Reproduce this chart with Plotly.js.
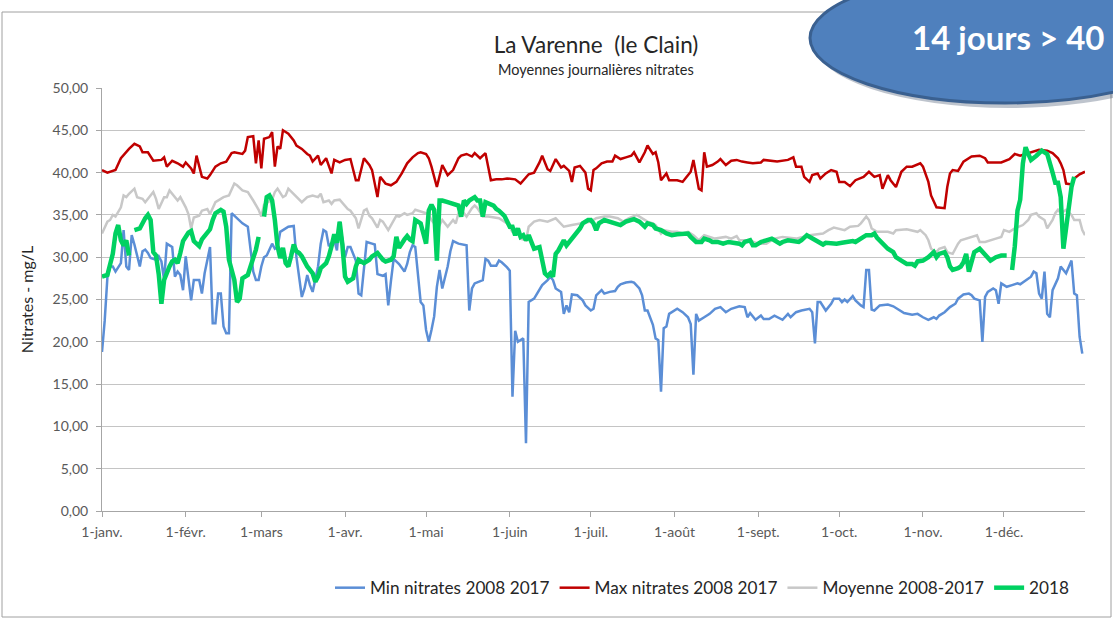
<!DOCTYPE html>
<html>
<head>
<meta charset="utf-8">
<script src="https://cdn.plot.ly/plotly-3.0.1.min.js"></script>
<style>
html,body{margin:0;padding:0;background:#fff;}
#chart{width:1113px;height:620px;}
</style>
</head>
<body>
<div id="chart"></div>
<script>
// Day of year (0 = 1 janv.) and daily nitrate values (mg/L)
const monthTickDays = [0,31,59,90,120,151,181,212,243,273,304,334];
const monthTickLabels = ['1-janv.','1-févr.','1-mars','1-avr.','1-mai','1-juin','1-juil.','1-août','1-sept.','1-oct.','1-nov.','1-déc.'];

const minDays = [0,1,2,3,4,5,7,8,9,10,11,12,14,15,16,17,18,20,21,22,23,24,25,26,27,28,29,30,31,32,33,34,36,37,38,40,41,42,43,44,45,46,47,48,50,52,54,55,56,57,58,59,60,61,62,63,64,65,66,68,69,71,72,74,75,76,77,78,80,81,82,83,84,86,87,88,89,90,91,92,94,95,96,97,98,100,101,102,104,105,106,107,108,110,112,113,114,115,116,118,119,120,121,122,123,124,125,126,127,128,129,130,132,135,136,137,138,141,142,143,144,146,147,148,150,151,152,153,154,155,156,157,158,160,162,163,165,166,167,168,170,171,172,173,174,176,178,179,181,182,183,185,186,188,190,191,192,194,196,197,199,200,201,202,204,205,206,207,208,209,210,212,213,215,217,218,219,220,221,223,225,227,229,231,233,236,238,239,240,242,244,245,247,249,251,252,254,255,257,259,262,263,264,265,266,268,270,271,273,274,275,276,278,279,281,282,283,284,285,286,288,291,293,295,297,300,302,304,305,306,308,309,310,312,314,316,317,319,321,322,323,325,326,327,328,330,331,332,333,335,337,339,340,342,344,345,346,347,348,349,350,351,352,354,355,357,358,359,360,361,362,363];
const minVals = [18.8,22.5,27.6,28.9,28.9,28.3,29.3,33.2,28.9,28.5,32.6,31.5,28.9,30.7,30.9,30.5,29.9,29.7,30.1,29.5,27.3,31.6,31.4,31.2,27.7,28.3,27.9,26.1,30.1,27.3,24.9,27.3,27.3,25.7,28.1,31.2,22.2,22.2,25.7,25.7,21.8,21.0,21.0,35.2,34.6,34.0,33.6,30.7,28.3,27.3,27.3,28.9,30.0,30.2,31.0,31.6,31.0,31.2,33.0,33.4,33.6,33.7,30.0,25.3,26.3,27.9,26.7,25.9,28.9,31.6,33.2,33.0,31.3,32.0,30.8,34.2,32.0,30.0,31.2,31.2,29.6,25.7,25.5,28.8,31.8,31.6,31.5,28.0,27.8,28.0,24.3,27.2,29.8,29.2,28.3,29.2,30.6,31.4,31.2,24.7,24.3,21.4,20.0,21.4,23.0,26.5,28.5,26.3,27.7,28.9,30.7,31.9,31.6,31.4,23.7,26.3,26.9,27.3,29.8,29.6,29.0,29.0,29.6,29.4,28.8,28.4,13.5,21.3,20.0,20.2,20.4,8.0,24.7,25.1,26.1,26.7,27.3,27.7,27.3,26.3,25.9,23.3,24.3,23.5,25.6,25.5,24.9,24.3,23.7,23.9,25.5,26.1,25.7,25.9,26.0,26.5,26.8,27.0,27.1,27.0,26.3,25.5,23.7,23.7,22.0,20.4,20.2,14.1,21.6,21.8,23.3,23.7,23.9,23.5,22.9,22.1,16.1,23.3,22.5,22.9,23.3,23.9,24.1,23.5,23.9,24.2,24.1,22.9,23.4,22.6,23.1,22.7,22.7,23.1,22.8,22.6,23.3,22.9,23.5,23.7,23.9,23.5,19.8,24.7,24.7,23.7,24.5,25.1,25.1,24.7,25.0,24.7,25.4,24.9,24.3,24.1,28.5,28.5,23.8,23.7,24.3,24.4,24.2,23.8,23.4,23.2,23.3,22.9,22.7,22.6,22.9,22.7,23.1,23.5,24.1,24.5,25.1,25.6,25.7,25.5,25.1,24.9,20.0,25.3,25.9,26.3,26.1,24.5,26.9,26.5,26.7,26.9,26.8,27.3,27.7,28.3,28.1,25.7,25.1,28.3,23.3,22.9,26.1,27.5,28.9,28.1,28.9,29.6,25.7,25.5,20.6,18.6];

const maxDays = [0,2,5,7,10,12,14,15,17,19,22,23,24,26,28,30,31,33,34,35,37,39,40,42,44,46,48,49,52,53,54,56,57,58,59,60,62,63,64,65,66,67,69,71,72,74,76,77,78,80,81,83,85,86,88,90,92,94,95,97,99,100,102,103,105,107,109,111,113,115,117,118,120,121,122,123,124,126,128,130,132,133,135,137,138,140,142,143,144,146,148,150,153,155,157,158,160,162,163,165,166,168,170,171,173,174,175,177,179,180,181,182,183,185,187,189,190,192,194,196,197,199,201,202,204,205,206,207,209,210,213,215,216,218,219,221,222,223,224,226,228,229,231,233,235,237,239,241,244,245,250,254,256,257,259,260,262,263,265,266,268,270,272,273,275,277,279,282,284,286,288,289,291,292,294,296,298,300,303,304,306,307,309,312,313,314,315,317,319,322,325,327,328,333,336,338,340,343,345,347,350,352,354,355,356,357,359,360,362,364];
const maxVals = [40.3,40.0,40.3,41.7,42.8,43.4,43.1,42.4,42.4,41.4,41.5,41.8,40.7,41.4,41.1,40.7,41.2,40.5,39.9,42.0,39.5,39.3,39.7,40.7,41.1,41.3,42.3,42.4,42.2,42.6,44.2,44.3,41.1,43.8,40.5,44.0,44.2,44.8,40.7,43.1,42.8,45.0,44.6,43.8,43.2,42.8,42.2,42.0,41.3,42.0,40.9,41.7,39.9,41.5,41.2,41.5,41.6,39.1,39.1,41.7,40.9,40.3,37.1,39.5,38.7,38.5,38.9,39.9,41.1,41.8,42.3,42.4,42.2,41.7,40.7,39.5,38.3,40.9,39.7,40.3,41.7,42.0,42.2,41.9,42.3,41.7,42.3,40.7,39.1,39.2,39.2,39.3,39.2,38.7,39.4,39.8,40.0,41.2,42.0,40.4,40.2,41.6,40.6,40.8,40.2,38.9,40.6,40.8,40.0,38.1,37.9,40.3,40.5,41.1,41.3,41.3,42.0,41.6,41.8,42.0,42.4,41.2,42.4,43.2,42.2,42.4,41.2,39.1,39.9,39.1,39.1,38.9,39.3,40.1,41.5,38.1,37.9,42.4,40.7,40.9,41.3,41.6,40.9,41.4,41.5,41.3,41.2,41.1,41.2,41.5,41.3,41.5,41.8,40.7,40.7,39.5,38.9,39.7,39.9,39.3,39.9,40.3,40.1,38.9,38.9,38.4,39.1,39.5,40.1,39.5,39.7,38.1,39.7,39.1,38.3,40.1,40.7,40.7,41.1,40.7,38.9,37.3,35.9,35.8,38.3,39.9,40.3,40.2,41.3,41.9,42.0,41.7,41.2,41.2,41.6,42.2,42.0,42.3,42.5,42.7,42.6,42.3,41.7,41.1,40.3,38.7,38.6,39.3,39.8,40.1];

const meanDays = [0,2,3,4,5,7,8,9,10,12,13,15,16,18,19,20,21,23,24,25,26,28,29,30,31,32,33,34,36,37,39,40,41,42,45,47,49,50,52,54,56,58,59,60,61,63,64,65,67,68,69,71,73,74,76,78,80,81,82,84,85,86,88,90,91,92,94,95,97,98,99,100,102,103,104,106,108,109,110,112,113,115,116,118,120,121,122,123,124,126,127,128,130,131,132,133,135,137,138,139,141,143,147,150,152,154,155,157,158,160,162,165,168,170,171,174,178,181,183,186,188,191,193,195,198,200,202,204,205,207,208,211,213,215,217,219,221,223,227,231,233,235,236,240,242,244,246,248,249,252,257,262,267,269,271,275,277,280,281,283,284,285,287,291,293,294,298,302,303,305,306,307,309,310,312,313,315,316,317,318,320,324,325,327,331,333,334,336,338,341,343,344,346,347,349,350,352,353,354,355,357,359,360,362,363,364];
const meanVals = [32.8,34.2,34.4,35.0,34.8,35.9,37.3,37.1,37.5,38.1,37.1,36.9,36.5,37.3,37.7,36.9,35.7,37.1,37.1,37.9,37.5,36.7,37.1,36.5,35.9,35.1,33.4,34.7,34.9,35.5,35.7,35.1,35.9,36.5,37.1,37.3,38.7,38.5,37.9,37.7,36.7,35.6,34.8,36.2,36.4,36.8,37.7,38.1,37.1,37.3,38.1,37.5,36.9,36.5,37.1,37.3,37.1,37.5,36.5,36.7,36.3,36.7,36.8,36.1,35.7,35.5,34.6,33.4,35.5,35.7,34.9,34.6,33.5,34.4,34.2,33.2,34.4,34.9,34.8,35.2,35.0,35.2,35.6,35.4,35.2,35.0,34.4,34.0,33.2,34.4,34.0,33.6,34.4,34.0,35.2,35.6,34.8,35.8,36.1,35.8,34.8,34.8,34.6,34.0,33.0,32.8,32.2,32.0,33.6,34.2,34.4,34.2,34.6,34.0,33.6,33.8,34.0,34.2,34.6,34.8,34.8,34.6,34.2,34.6,35.0,34.6,34.2,34.0,33.8,32.8,33.2,33.0,33.0,32.8,33.0,32.6,32.0,32.6,32.2,32.4,32.2,32.5,32.0,32.0,31.7,31.6,31.6,32.0,32.2,32.4,32.2,32.6,32.8,33.2,33.5,33.2,33.6,33.7,34.0,34.8,34.4,33.4,33.0,33.0,32.8,33.2,33.3,33.0,33.2,32.6,32.0,31.0,30.6,31.0,31.2,30.6,30.4,31.0,31.6,32.0,32.2,32.6,31.8,31.8,32.2,32.4,33.2,33.0,33.4,33.8,34.4,35.0,35.2,34.8,34.4,33.4,34.4,35.2,35.6,35.2,35.6,35.0,34.4,34.4,33.2,32.6];

const y2018Days = [0,2,4,5,6,7,8,9,10,11,12,14,16,17,18,19,20,21,22,23,25,26,27,28,29,30,32,33,34,36,37,38,40,41,42,44,45,46,47,49,50,51,52,54,55,56,57,58,59,60,61,62,63,64,65,66,67,68,69,70,71,72,73,74,75,76,78,79,80,81,83,84,85,86,87,88,89,90,91,93,94,95,97,99,100,102,104,105,107,108,109,110,112,113,114,115,116,118,119,120,121,122,123,124,125,126,128,131,132,133,134,135,136,138,139,140,141,142,144,145,146,147,149,150,151,152,153,154,155,156,157,158,159,160,162,163,164,165,166,167,168,169,170,171,172,173,175,176,177,178,180,181,182,183,184,186,188,190,192,194,196,197,199,201,202,204,205,207,209,211,213,217,218,219,220,222,223,225,226,228,230,232,234,236,237,238,240,241,242,243,244,246,248,249,251,252,254,258,259,261,263,265,267,268,272,274,276,278,279,281,283,285,286,287,289,291,293,294,296,298,300,301,302,303,304,306,308,309,310,312,313,314,315,317,318,319,320,321,322,323,325,326,328,329,331,333,335,336,337,338,339,340,341,342,343,344,346,347,348,349,350,352,353,354,355,356,357,358,359,360];
const y2018Vals = [27.7,27.9,30.4,32.8,33.8,32.0,31.4,32.0,30.2,null,33.2,33.4,34.6,35.0,34.4,30.6,30.2,28.0,24.5,27.3,28.9,29.5,29.7,29.3,30.5,31.9,32.9,33.1,31.9,31.3,32.1,32.5,33.3,34.4,35.2,35.6,35.4,33.6,29.7,27.3,24.7,25.1,27.5,27.9,28.9,29.7,30.9,32.4,null,34.8,37.1,37.3,36.7,34.4,31.3,29.9,31.1,29.3,28.9,30.1,31.5,30.7,30.5,30.1,29.5,28.9,28.1,27.1,27.7,28.7,29.3,30.1,31.3,32.7,31.7,34.2,31.5,27.7,27.1,27.5,28.9,29.7,29.3,29.7,30.1,30.5,29.7,29.5,29.7,30.1,32.4,31.1,32.1,32.5,32.1,31.9,34.4,34.0,32.8,31.6,35.5,36.2,35.6,29.6,36.7,36.7,36.5,36.3,36.1,34.8,36.7,36.3,36.7,37.1,36.7,36.7,34.8,36.5,36.3,36.1,35.7,35.5,34.9,34.2,33.6,33.6,32.6,33.4,32.4,32.6,32.0,32.6,31.6,31.0,31.2,29.6,28.1,27.8,28.1,27.7,30.4,30.8,31.4,32.0,31.4,31.8,32.4,32.8,33.4,34.0,34.4,34.4,34.0,33.2,34.0,34.4,34.2,34.1,33.8,34.2,34.4,34.5,34.2,33.6,34.0,33.8,33.4,33.2,32.8,32.6,32.7,32.8,32.4,32.0,31.8,31.8,32.2,32.0,31.8,31.8,31.6,31.8,31.7,31.6,31.4,31.8,32.0,31.4,31.4,31.6,31.8,32.0,32.2,32.0,31.6,31.8,32.0,31.8,32.0,32.6,32.2,31.8,31.5,31.7,31.6,31.7,31.8,31.9,31.8,32.2,32.6,32.6,32.8,32.3,31.6,31.0,30.6,30.0,29.6,29.2,29.2,29.0,29.5,29.5,29.6,30.0,30.6,30.0,30.4,30.6,30.0,28.9,28.5,28.7,28.9,29.4,30.4,28.3,29.3,30.6,31.0,30.6,30.0,29.6,30.0,30.2,30.2,null,28.5,31.3,35.5,36.8,41.1,43.0,42.2,41.5,42.0,42.4,42.6,42.4,42.2,40.0,38.8,38.8,37.1,31.0,33.6,36.7,38.3,39.5];

const seriesNames = ['Min nitrates 2008 2017','Max nitrates 2008 2017','Moyenne 2008-2017','2018'];

const FONT = 'Lato, "Open Sans", sans-serif';
// pixel -> paper helpers for decorations (plot area: x 102..1085, y 88..511)
const px = x => (x - 102) / 983;
const py = y => (511 - y) / 423;

const traces = [
  {x: minDays, y: minVals, name: seriesNames[0], type: 'scatter', mode: 'lines', line: {color: '#5b8ed6', width: 2.5}},
  {x: maxDays, y: maxVals, name: seriesNames[1], type: 'scatter', mode: 'lines', line: {color: '#c00000', width: 2.5}},
  {x: meanDays, y: meanVals, name: seriesNames[2], type: 'scatter', mode: 'lines', line: {color: '#c8c8c8', width: 2.5}},
  {x: y2018Days, y: y2018Vals, name: seriesNames[3], type: 'scatter', mode: 'lines', connectgaps: false, line: {color: '#00d161', width: 4.5}}
];

const layout = {
  width: 1113, height: 620,
  margin: {l: 102, r: 28, t: 88, b: 109},
  paper_bgcolor: '#ffffff', plot_bgcolor: '#ffffff',
  separators: ', ',
  font: {family: FONT, color: '#404040'},
  title: {
    text: 'La Varenne &nbsp;(le Clain)',
    font: {family: FONT, size: 22.5, color: '#262626'},
    xref: 'container', yref: 'container',
    x: 596 / 1113, xanchor: 'center',
    y: 1 - 45 / 620, yanchor: 'middle'
  },
  xaxis: {
    range: [0, 364],
    tickvals: monthTickDays, ticktext: monthTickLabels,
    ticks: 'outside', ticklen: 5, tickcolor: '#a6a6a6',
    ticklabelstandoff: 3,
    showgrid: false, zeroline: false,
    showline: true, linecolor: '#a6a6a6', linewidth: 1,
    tickfont: {family: FONT, size: 14, color: '#595959'},
    fixedrange: true
  },
  yaxis: {
    range: [0, 50], dtick: 5, tickformat: '.2f',
    ticks: 'outside', ticklen: 5, tickcolor: '#a6a6a6',
    ticklabelstandoff: 5,
    showgrid: true, gridcolor: '#c4c4c4', gridwidth: 1,
    zeroline: false,
    showline: true, linecolor: '#a6a6a6', linewidth: 1,
    tickfont: {family: FONT, size: 14, color: '#595959'},
    title: {text: 'Nitrates - mg/L', font: {family: FONT, size: 16, color: '#262626'}, standoff: 14},
    fixedrange: true
  },
  legend: {
    orientation: 'h',
    x: px(330), xanchor: 'left',
    y: py(588), yanchor: 'middle',
    font: {family: FONT, size: 17.2, color: '#262626'},
    itemwidth: 30,
    bgcolor: 'rgba(0,0,0,0)'
  },
  shapes: [
    {type: 'rect', xref: 'paper', yref: 'paper', layer: 'below',
     x0: px(2), x1: px(1111), y0: py(617), y1: py(12),
     line: {color: '#a0a0a0', width: 1}, fillcolor: 'rgba(0,0,0,0)'},
    {type: 'circle', xref: 'paper', yref: 'paper', layer: 'above',
     x0: px(814), x1: px(1204), y0: py(108), y1: py(-22),
     line: {width: 0}, fillcolor: 'rgba(40,60,90,0.3)'},
    {type: 'circle', xref: 'paper', yref: 'paper', layer: 'above',
     x0: px(810), x1: px(1200), y0: py(103), y1: py(-27),
     line: {color: '#3a6090', width: 3}, fillcolor: '#4f80bd'}
  ],
  annotations: [
    {text: 'Moyennes journalières nitrates', xref: 'paper', yref: 'paper',
     x: px(596), y: py(69), xanchor: 'center', yanchor: 'middle', showarrow: false,
     font: {family: FONT, size: 14.5, color: '#262626'}},
    {text: '<b>14 jours &gt; 40</b>', xref: 'paper', yref: 'paper',
     x: px(1008), y: py(37), xanchor: 'center', yanchor: 'middle', showarrow: false,
     font: {family: FONT, size: 33, color: '#ffffff'}}
  ],
  showlegend: true
};

Plotly.newPlot('chart', traces, layout, {displayModeBar: false, staticPlot: true});
</script>
</body>
</html>
